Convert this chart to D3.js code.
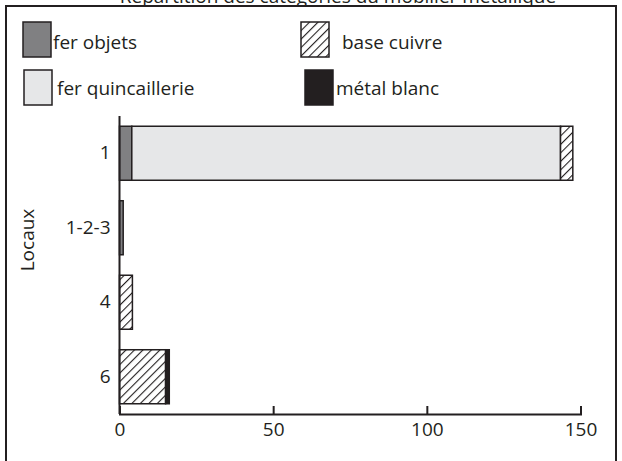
<!DOCTYPE html>
<html><head><meta charset="utf-8">
<script src="https://cdn.jsdelivr.net/npm/d3@7"></script>
<style>body{margin:0;background:#fff}svg{display:block}text{font-family:"Open Sans",sans-serif;fill:#231f20}</style>
</head><body><svg id="c" width="622" height="461"></svg>
<script>
const categories = ["1", "1-2-3", "4", "6"];
const seriesNames = ["fer objets", "fer quincaillerie", "base cuivre", "métal blanc"];
const ferObjets = [4, 1.2, 0, 0];
const ferQuincaillerie = [139.5, 0, 0, 0];
const baseCuivre = [4, 0, 4.2, 15];
const metalBlanc = [0, 0, 0, 1.2];
const xTicks = [0, 50, 100, 150];
const titleText = "Répartition des catégories du mobilier métallique";
const yTitle = "Locaux";

const ink = "#231f20";
const fills = ["#808082", "#e6e7e8", "url(#hatch)", "#231f20"];
const svg = d3.select("#c");
const defs = svg.append("defs");
const pat = defs.append("pattern").attr("id", "hatch").attr("patternUnits", "userSpaceOnUse")
  .attr("width", 6).attr("height", 6).attr("patternTransform", "rotate(45)");
pat.append("rect").attr("width", 6).attr("height", 6).attr("fill", "#fff");
pat.append("line").attr("x1", 0).attr("y1", 0).attr("x2", 0).attr("y2", 6).attr("stroke", ink).attr("stroke-width", 2.2);

// frame
svg.append("rect").attr("x", 6).attr("y", 6).attr("width", 610).attr("height", 470)
  .attr("fill", "none").attr("stroke", ink).attr("stroke-width", 2);
// title (cut by the top edge, as in the source)
svg.append("text").attr("x", 338).attr("y", 3).attr("text-anchor", "middle").attr("font-size", 19).text(titleText);

const table = categories.map((c, i) => ({cat: c, "fer objets": ferObjets[i], "fer quincaillerie": ferQuincaillerie[i], "base cuivre": baseCuivre[i], "métal blanc": metalBlanc[i]}));
const stack = d3.stack().keys(seriesNames)(table);

const x = d3.scaleLinear().domain([0, 150]).range([119.5, 580.5]);
const y = d3.scaleBand().domain(categories).range([116, 414]).paddingInner(0.275).paddingOuter(0.1375);

const g = svg.append("g");
stack.forEach((s, k) => {
  g.selectAll(null).data(s.filter(d => d[1] - d[0] > 0)).join("rect")
    .attr("x", d => x(d[0])).attr("width", d => x(d[1]) - x(d[0]))
    .attr("y", d => y(d.data.cat)).attr("height", y.bandwidth())
    .attr("fill", fills[k]).attr("stroke", ink).attr("stroke-width", 1.5);
});

// y axis
const ya = svg.append("g").attr("transform", `translate(${x(0)},0)`)
  .call(d3.axisLeft(y).tickSize(0).tickPadding(9));
ya.select(".domain").remove();
ya.selectAll("text").attr("font-size", 19).attr("font-family", "Open Sans").attr("fill", ink);
svg.append("line").attr("x1", x(0)).attr("x2", x(0)).attr("y1", 116).attr("y2", 414)
  .attr("stroke", ink).attr("stroke-width", 2);

// x axis
const xa = svg.append("g").attr("transform", "translate(0,414)")
  .call(d3.axisBottom(x).tickValues(xTicks).tickSizeInner(-8).tickSizeOuter(-8).tickPadding(9));
xa.selectAll("path,line").attr("stroke", ink).attr("stroke-width", 2);
xa.selectAll("text").attr("font-size", 19).attr("font-family", "Open Sans").attr("fill", ink);

svg.append("text").attr("transform", "translate(34,240) rotate(-90)").attr("text-anchor", "middle")
  .attr("font-size", 19).text(yTitle);

// legend
const legendPos = [
  {sx: 23, sy: 22, tx: 53, ty: 42},
  {sx: 24, sy: 70, tx: 57, ty: 88},
  {sx: 301, sy: 22, tx: 342, ty: 42},
  {sx: 305, sy: 70, tx: 336, ty: 88}
];
const lg = svg.append("g");
seriesNames.forEach((n, k) => {
  const p = legendPos[k];
  lg.append("rect").attr("x", p.sx).attr("y", p.sy).attr("width", 28).attr("height", 35)
    .attr("fill", fills[k]).attr("stroke", ink).attr("stroke-width", 1.5);
  lg.append("text").attr("x", p.tx).attr("y", p.ty).attr("dy", "0.35em").attr("font-size", 19).text(n);
});
</script></body></html>
